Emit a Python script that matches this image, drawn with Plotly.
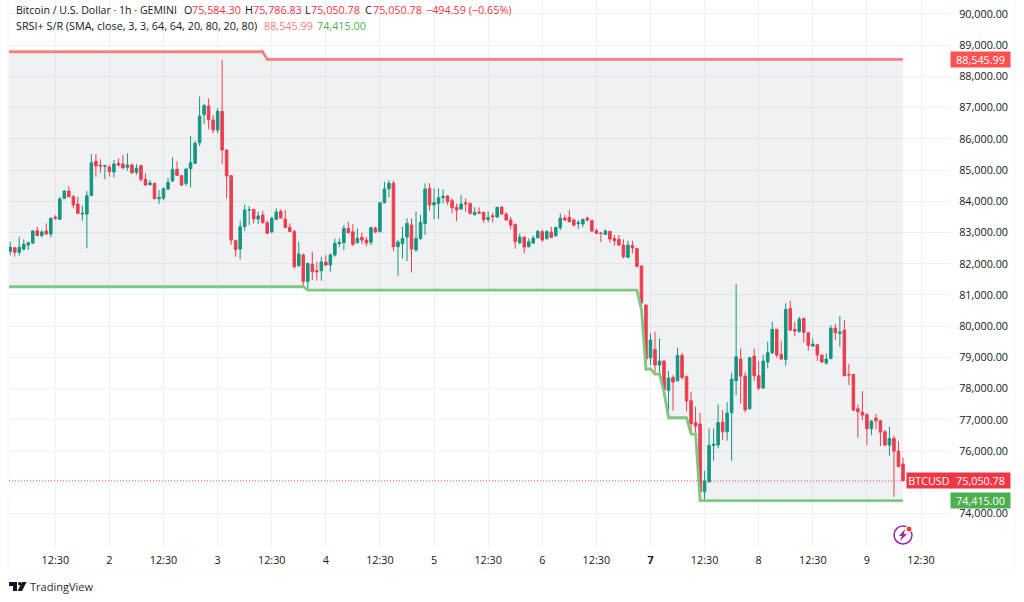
import pandas as pd
import plotly.graph_objects as go

opens = [82396,82514,82364,82471,82599,82663,83058,82909,83048,82952,
83496,83422,84094,84329,84148,83913,83592,83592,84190,85280,
85152,85120,85098,84938,85216,85195,85088,85162,84927,85141,
84703,84532,84575,84084,84105,84393,84650,85024,84821,84575,
85045,85216,85878,86775,87053,86604,86284,86882,85643,84821,
82738,82471,83187,83721,83742,83432,83560,83315,83016,83422,
83678,83432,83165,83037,81937,82279,81435,81990,81777,81777,
82055,81959,82279,82642,82674,83133,83026,82674,82845,82759,
82685,83144,83037,83955,84404,84575,82546,82642,82856,83240,
82439,82813,83293,84415,83881,83934,84116,84169,84019,83806,
83752,83955,83934,83571,83656,83646,83421,83539,83496,83817,
83592,83400,83261,82674,82855,82546,82663,82834,83026,82813,
83016,82898,83154,83464,83485,83400,83283,83272,83464,83389,
83058,82983,82941,83037,82802,82781,82599,82204,82588,82492,
81926,80677,78989,79256,78754,78883,77943,78359,78252,79064,
78381,77612,76917,76864,74696,75017,76181,76191,76928,76618,
77227,78252,78947,78402,77355,79043,78413,78018,78851,79149,
79897,79096,78936,80570,79897,79833,80249,79790,79363,79405,
79074,78818,78968,79939,79769,79875,78455,78455,77355,77248,
77173,76714,77056,76970,76618,76191,76404,75999,75584.30]

highs = [82706,82530,82866,82781,82706,83080,83187,83080,83293,83486,
83560,84148,84361,84490,84201,84148,83860,84329,85515,85515,
85344,85173,85173,85323,85376,85483,85536,85216,85195,85173,
84895,84682,84596,84361,84447,84757,85408,85280,84842,85056,
86092,85942,87352,87117,87298,86764,86978,88527,85650,84830,
82759,83379,83892,83849,83750,83667,83699,83379,83507,83774,
83742,83721,83293,83080,82706,82332,82033,82386,82065,82225,
82279,82332,82802,82813,83240,83347,83272,83133,82994,82866,
83187,83187,83977,84628,84682,84660,82759,83187,83454,83454,
83667,83560,84575,84575,84415,84415,84383,84201,84094,83934,
84201,84094,83955,83806,83806,83667,83667,83635,83827,83849,
83646,83507,83293,82973,82866,82813,82898,83080,83101,83080,
83186,83186,83614,83560,83720,83453,83400,83443,83507,83400,
83133,83005,83101,83058,82919,82919,82781,82738,82738,82503,
81948,80698,79769,79822,79609,78904,78562,78434,79310,79150,
78423,77900,77419,77227,75369,76725,76725,77494,77313,77569,
78509,81350,79288,78530,79021,79288,78883,79075,79502,80142,
79918,79534,80730,80815,80142,80303,80270,79822,79608,79427,
79096,79128,80036,80068,80324,80196,78786,78466,77494,77921,
77205,76992,77184,76992,76671,76778,76490,76319,75786.83]

lows = [82279,82225,82257,82418,82439,82631,82888,82845,82941,82845,
83400,83400,84073,84126,83774,83592,83379,82492,84169,84789,
84917,84703,84789,84767,85109,85045,84981,84874,84853,84628,
84490,84511,84062,83913,84041,84361,84628,84810,84490,84490,
84447,85195,85771,86476,86305,86177,86177,85195,84094,82599,
82225,82140,83058,83240,83293,83272,83293,82952,82973,83400,
83443,83144,83016,81852,81905,81264,81179,81478,81456,81456,
81937,81745,82225,82546,82439,82973,82567,82653,82631,82567,
82599,82994,82994,83934,84126,82407,81617,82172,82087,81723,
82386,82759,82920,83699,83421,83432,83934,83881,83614,83368,
83720,83667,83582,83550,83592,83315,83325,83325,83475,83571,
83379,83101,82482,82631,82332,82524,82631,82813,82706,82759,
82834,82866,83080,83379,83325,83186,83112,83165,83347,83026,
82951,82695,82919,82674,82578,82578,82172,82183,82332,81883,
80538,78616,78754,78466,78466,77740,77078,77291,78231,78295,
77270,76565,76586,74408,74408,74995,75689,76084,76351,76330,
75689,77793,77526,77238,77334,78252,77953,78007,78648,79106,
78989,78936,78733,79854,79683,79790,79470,79213,79341,78882,
78829,78775,78936,79555,79341,78402,78113,77280,76426,76992,
76191,76511,76693,76159,76169,75849,74536,75475,75050.78]

closes = [82525,82364,82525,82621,82674,83048,82909,83016,82952,83454,
83454,84073,84329,84148,83881,83614,83614,84180,85237,85130,
85130,85141,84949,85195,85162,85066,85162,84917,85056,84703,
84522,84586,84084,84126,84404,84607,85024,84831,84522,85034,
85237,85857,86732,87063,86615,86284,86882,85643,84810,82759,
82450,83187,83721,83731,83432,83528,83315,82973,83454,83657,
83464,83165,83037,81905,82311,81435,82012,81745,81745,82055,
81959,82279,82653,82685,83133,82994,82621,82813,82759,82663,
83155,83016,83955,84393,84575,82546,82695,82813,83293,82471,
82813,83326,84393,83881,83955,84116,84158,83987,83795,83720,
83913,83923,83614,83646,83624,83411,83475,83507,83806,83592,
83400,83240,82706,82855,82535,82706,82823,83037,82759,83026,
82845,83165,83464,83400,83347,83240,83315,83421,83400,83048,
82973,82973,83048,82791,82738,82599,82225,82599,82503,81915,
80752,78947,79555,78754,78883,77953,78338,78210,79064,78359,
77601,76885,76800,74696,75038,76181,76223,76917,76618,77217,
78306,79021,78402,77323,78989,78413,78018,78883,79150,79897,
79074,78946,80538,79875,79843,80228,79801,79384,79427,79074,
78850,78946,79939,79790,79811,78412,78434,77312,77259,77152,
76714,76960,76970,76607,76191,76404,75999,75507,75050.78]

# step lines of the indicator, as (hour index, price) breakpoints
resist_idx = [-1, 56, 57, 198]
resist_val = [88790, 88790, 88545.99, 88545.99]
support_idx = [-1, 65, 66, 139, 140, 141, 142, 143, 144, 145, 146, 150, 151, 152, 153, 198]
support_val = [81264, 81264, 81157, 81157, 80520, 78616, 78637, 78466, 78466, 77900, 77067, 77067, 76544, 76544, 74415, 74415]

price_ticks = [74000,75000,76000,77000,78000,79000,80000,81000,82000,83000,84000,85000,86000,87000,88000,89000,90000]
price_tick_text = ["74,000.00","","76,000.00","77,000.00","78,000.00","79,000.00","80,000.00","81,000.00","82,000.00","83,000.00","84,000.00","85,000.00","86,000.00","87,000.00","88,000.00","89,000.00","90,000.00"]
time_tick_idx = [10,22,34,46,58,70,82,94,106,118,130,142,154,166,178,190,202]
time_tick_text = ["12:30","2","12:30","3","12:30","4","12:30","5","12:30","6","12:30","<b>7</b>","12:30","8","12:30","9","12:30"]

last_price = 75050.78
start = pd.Timestamp("2025-04-01 02:30")

def hour(i):
    return start + pd.Timedelta(hours=i)

times = [hour(i) for i in range(len(closes))]
RED = "#F23645"
CANDLE_RED = "#F93648"
GREEN = "#089981"
TEXT = "#131722"
FONT = "Open Sans"

fig = go.Figure()

fig.add_trace(go.Scatter(x=[hour(i) for i in resist_idx], y=resist_val, mode="lines",
                         line=dict(color="#F8807F", width=2.8), hoverinfo="skip"))
fig.add_trace(go.Scatter(x=[hour(i) for i in support_idx], y=support_val, mode="lines",
                         line=dict(color="#81C784", width=2.8), fill="tonexty",
                         fillcolor="rgba(120,125,140,0.11)", hoverinfo="skip"))
fig.add_trace(go.Candlestick(x=times, open=opens, high=highs, low=lows, close=closes,
                             increasing=dict(line=dict(color=GREEN, width=1), fillcolor=GREEN),
                             decreasing=dict(line=dict(color=CANDLE_RED, width=1), fillcolor=CANDLE_RED),
                             whiskerwidth=0))

fig.update_layout(
    width=1024, height=602, showlegend=False, paper_bgcolor="white", plot_bgcolor="white",
    margin=dict(l=9, r=74, t=0, b=55, pad=0), font=dict(family=FONT, size=10.8, color=TEXT),
    boxgap=0.2,
)
fig.update_xaxes(type="date", range=[hour(-0.27), hour(208.43)], rangeslider_visible=False,
                 tickmode="array", tickvals=[hour(i) for i in time_tick_idx], ticktext=time_tick_text,
                 showgrid=True, gridcolor="#F0F1F3", gridwidth=1, zeroline=False, showline=False,
                 ticks="outside", ticklen=3, tickcolor="white", tickangle=0)
fig.update_yaxes(side="right", range=[72928, 90448], tickmode="array", tickvals=price_ticks,
                 ticktext=price_tick_text, showgrid=True, gridcolor="#F0F1F3",
                 gridwidth=1, zeroline=False, showline=False, ticks="outside", ticklen=6, tickcolor="white")

# last price line
fig.add_shape(type="line", xref="paper", x0=0, x1=1, yref="y", y0=last_price, y1=last_price,
              line=dict(color=RED, width=1, dash="1px,2px"), opacity=0.8)

# header text, pieces placed one by one
def header(x, y, text, color=TEXT, size=10.8):
    fig.add_annotation(xref="paper", yref="paper", x=(x - 9) / 941, y=(547 - y) / 547, text=text,
                       showarrow=False, xanchor="left", yanchor="middle", xshift=-2,
                       font=dict(family=FONT, size=size, color=color))

header(16, 10, "Bitcoin / U.S. Dollar · 1h · GEMINI", size=10.6)
header(184, 10, "O")
header(192, 10, "75,584.30", RED)
header(245, 10, "H")
header(253, 10, "75,786.83", RED)
header(305, 10, "L")
header(311, 10, "75,050.78", RED)
header(365, 10, "C")
header(373, 10, "75,050.78", RED)
header(426, 10, "−494.59 (−0.65%)", RED)
header(16, 25, "SRSI+ S/R (SMA, close, 3, 3, 64, 64, 20, 80, 20, 80)")
header(264, 25, "88,545.99", "#F77C80")
header(317, 25, "74,415.00", "#4CAF50")

# price labels on the right
def price_label(x, w, price, text, color):
    fig.add_annotation(xref="paper", yref="y", x=(x - 9) / 941, y=price, text=text, showarrow=False,
                       xanchor="left", yanchor="middle", width=w, height=13, align="center",
                       bgcolor=color, font=dict(family=FONT, size=10.8, color="white"))

price_label(906, 42, last_price, "BTCUSD", RED)
price_label(950, 57, last_price, "75,050.78", RED)
price_label(950, 57, 88545.99, "88,545.99", "#FF5252")
price_label(950, 57, 74415, "74,415.00", "#4CAF50")

# lightning badge under the last candles
fig.add_shape(type="circle", xref="paper", yref="paper", xsizemode="pixel", ysizemode="pixel",
              xanchor=(903 - 9) / 941, yanchor=0, x0=-9, x1=9, y0=3, y1=21,
              line=dict(color="#9C27B0", width=1.5))
fig.add_shape(type="path", xref="paper", yref="paper", xsizemode="pixel", ysizemode="pixel",
              xanchor=(903 - 9) / 941, yanchor=0,
              path="M 2 18 L -4 11 L -1 11 L -3 6 L 4 13 L 1 13 Z",
              fillcolor="#9C27B0", line=dict(width=0))
fig.add_shape(type="circle", xref="paper", yref="paper", xsizemode="pixel", ysizemode="pixel",
              xanchor=(909 - 9) / 941, yanchor=0, x0=-3, x1=3, y0=15, y1=21,
              fillcolor="#F23645", line=dict(color="white", width=1))

# faint frame around chart and axes
fig.add_shape(type="path", xref="paper", yref="paper", xsizemode="pixel", ysizemode="pixel",
              xanchor=0, yanchor=0, path="M -1 547 L -1 -24 L 1006 -24 L 1006 547",
              line=dict(color="#F5F6F7", width=1))

# TradingView mark and name
fig.add_shape(type="path", xref="paper", yref="paper", xsizemode="pixel", ysizemode="pixel",
              xanchor=0, yanchor=0,
              path="M 0 -35 L 8 -35 L 8 -44 L 4 -44 L 4 -39 L 0 -39 Z M 13 -35 L 17.5 -35 L 13 -44 L 8.5 -44 Z",
              fillcolor="#131722", line=dict(width=0))
fig.add_shape(type="circle", xref="paper", yref="paper", xsizemode="pixel", ysizemode="pixel",
              xanchor=0, yanchor=0, x0=9, x1=12.5, y0=-38.5, y1=-35,
              fillcolor="#131722", line=dict(width=0))
fig.add_annotation(xref="paper", yref="paper", x=(30 - 9) / 941, y=(547 - 586) / 547, text="TradingView",
                   showarrow=False, xanchor="left", yanchor="middle", xshift=-2,
                   font=dict(family=FONT, size=11, color="#2A2E39"))

fig.write_html("out.html", config=dict(displayModeBar=False), post_script="document.body.style.margin='0';")
